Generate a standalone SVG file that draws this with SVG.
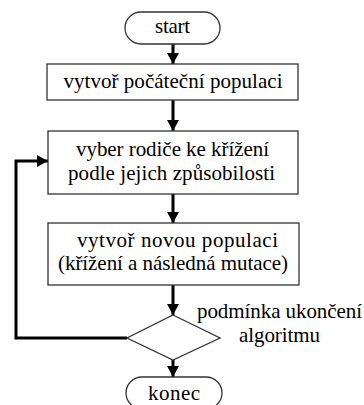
<svg xmlns="http://www.w3.org/2000/svg" width="364" height="405" viewBox="0 0 364 405">
<style>
.n{fill:#fff;stroke:#333;stroke-width:1.3}
.c{fill:none;stroke:#000;stroke-width:3}
.t{font-family:"Liberation Serif","Times New Roman",serif;font-size:21px;fill:#000;text-anchor:middle}
</style>
<defs>
<marker id="ah" markerUnits="userSpaceOnUse" markerWidth="12" markerHeight="12" viewBox="0 0 12 12" refX="11" refY="6" orient="auto">
<path d="M0,0 L11,6 L0,12 Z" fill="#000"/>
</marker>
</defs>
<rect width="364" height="405" fill="#fff"/>
<g id="connectors">
<line class="c" x1="173" y1="44" x2="173" y2="64" marker-end="url(#ah)"/>
<line class="c" x1="173" y1="100" x2="173" y2="131" marker-end="url(#ah)"/>
<line class="c" x1="173" y1="194" x2="173" y2="223" marker-end="url(#ah)"/>
<line class="c" x1="173" y1="285" x2="173" y2="315" marker-end="url(#ah)"/>
<line class="c" x1="173" y1="360" x2="173" y2="377" marker-end="url(#ah)"/>
<polyline class="c" points="127,338 16,338 16,161 48,161" marker-end="url(#ah)"/>
</g>
<g id="start">
<rect class="n" x="125" y="12" width="95" height="32" rx="16"/>
<text class="t" x="172.5" y="33" textLength="35">start</text>
</g>
<g id="init">
<rect class="n" x="47" y="64" width="251" height="36"/>
<text class="t" x="173" y="88" textLength="219">vytvoř počáteční populaci</text>
</g>
<g id="select">
<rect class="n" x="48" y="131" width="250" height="63"/>
<text class="t" x="172.5" y="156" textLength="193">vyber rodiče ke křížení</text>
<text class="t" x="171.5" y="180" textLength="207">podle jejich způsobilosti</text>
</g>
<g id="newpop">
<rect class="n" x="48" y="223" width="251" height="62"/>
<text class="t" x="177.5" y="247" textLength="201">vytvoř novou populaci</text>
<text class="t" x="173" y="270" textLength="230">(křížení a následná mutace)</text>
</g>
<g id="cond">
<polygon class="n" points="173,315 220,338 173,360 127,338"/>
<text class="t" x="279.5" y="318" textLength="165">podmínka ukončení</text>
<text class="t" x="279.5" y="342" textLength="81">algoritmu</text>
</g>
<g id="end">
<rect class="n" x="126" y="377" width="96" height="32" rx="16"/>
<text class="t" x="174" y="400" textLength="52">konec</text>
</g>
</svg>
